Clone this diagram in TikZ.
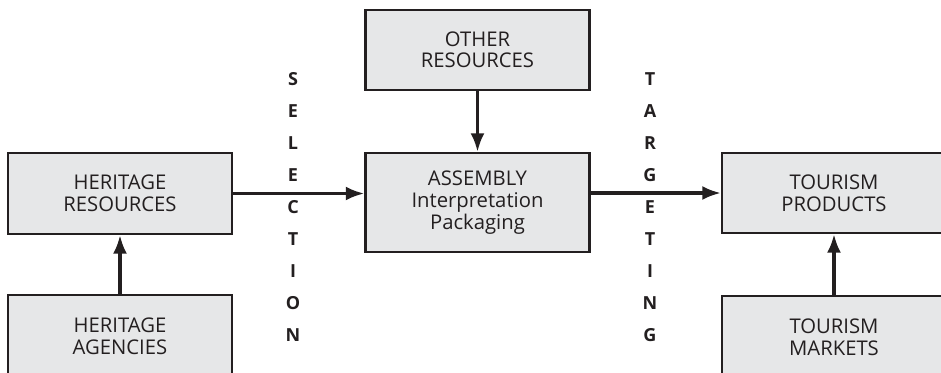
\documentclass[tikz,border=0pt]{standalone}
\usepackage{fontspec}
\setmainfont{Open Sans}
\usetikzlibrary{arrows.meta,positioning}
\definecolor{boxgray}{HTML}{E6E7E8}
\definecolor{textdark}{HTML}{231F20}
\tikzset{
  >=Latex,
  resource/.style={
    rectangle, draw=textdark, line width=1.6pt, fill=boxgray,
    minimum width=168pt, minimum height=60.75pt, align=center, inner sep=0pt,
    font=\fontsize{15.2}{16.2}\selectfont, text=textdark
  },
  flow/.style={-{Latex[length=14pt,width=10.5pt]}, line width=2.5pt, draw=textdark},
  letter/.style={font=\bfseries\fontsize{13.5}{15}\selectfont, text=textdark, inner sep=0pt}
}

\begin{document}
\begin{tikzpicture}[x=0.75pt, y=-0.75pt]
\useasboundingbox (0,0) rectangle (941,372);
\clip (0,0) rectangle (941,372);
% middle column
\node[resource, minimum height=74.25pt] (asm) at (477.5,202.5) {ASSEMBLY\\Interpretation\\Packaging};
\node[resource, minimum height=60pt, above=45.75pt of asm] (other) {OTHER\\RESOURCES};
% heritage side
\node[resource] (hres) at (120,193.5) {HERITAGE\\RESOURCES};
\node[resource, minimum height=61.5pt, below=44.25pt of hres] (hag) {HERITAGE\\AGENCIES};
% tourism side
\node[resource, minimum height=60pt] (tprod) at (834,193) {TOURISM\\PRODUCTS};
\node[resource, minimum height=61.5pt, below=45.75pt of tprod] (tmkt) {TOURISM\\MARKETS};
\draw[flow] (hag) -- (hres);
\draw[flow] (other) -- (asm);
\draw[flow] (tmkt) -- (tprod);
\draw[flow] (hres.east) -- (hres.east -| asm.west);
\draw[flow] (tprod.west -| asm.east) -- (tprod.west);
% vertical words
\foreach \ch [count=\i] in {S,E,L,E,C,T,I,O,N}
  \node[letter] (sel\i) at (293,{47+32*\i}) {\ch};
\foreach \ch [count=\i] in {T,A,R,G,E,T,I,N,G}
  \node[letter] (tar\i) at (650,{47+32*\i}) {\ch};
\end{tikzpicture}
\end{document}
